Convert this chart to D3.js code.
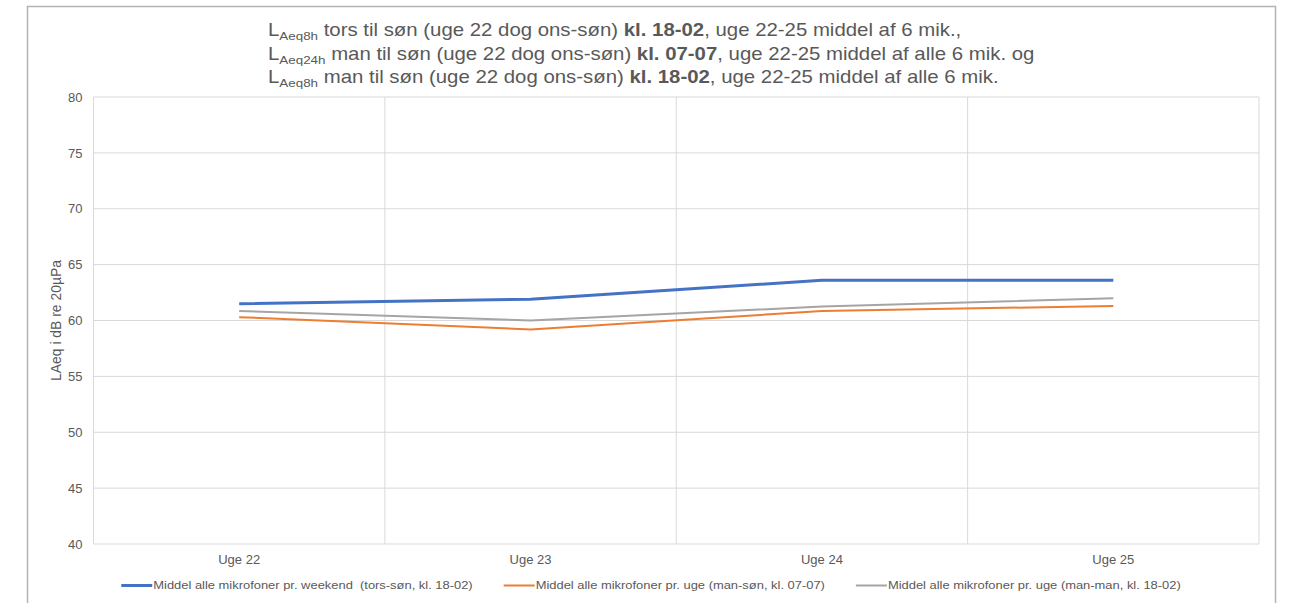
<!DOCTYPE html>
<html>
<head>
<meta charset="utf-8">
<script src="https://cdn.jsdelivr.net/npm/d3@7"></script>
<style>
  body { margin: 0; background: #fff; }
  svg { display: block; font-family: "Liberation Sans", Arial, sans-serif; }
</style>
</head>
<body>
<svg id="chart" width="1290" height="603"></svg>
<script>
const weeks = ["Uge 22", "Uge 23", "Uge 24", "Uge 25"];
const weekend1802 = [61.5, 61.9, 63.6, 63.6];
const week0707 = [60.3, 59.2, 60.85, 61.3];
const weekMan1802 = [60.85, 60.0, 61.25, 62.0];
const seriesNames = [
	"Middel alle mikrofoner pr. weekend  (tors-søn, kl. 18-02)",
	"Middel alle mikrofoner pr. uge (man-søn, kl. 07-07)",
	"Middel alle mikrofoner pr. uge (man-man, kl. 18-02)"
];
const yTicks = [40, 45, 50, 55, 60, 65, 70, 75, 80];

const series = [
	{ name: seriesNames[0], values: weekend1802, color: "#4472c4", width: 3 },
	{ name: seriesNames[1], values: week0707, color: "#ed7d31", width: 2 },
	{ name: seriesNames[2], values: weekMan1802, color: "#a5a5a5", width: 2 }
];

const textColor = "#595959";
const gridColor = "#d9d9d9";
const plot = { left: 93.5, right: 1259, top: 97, bottom: 544 };
// title and legend text look widened in the original
const titleStretch = 1.165;
const legendStretch = 1.155;

const svg = d3.select("#chart");

// outer chart frame (bottom edge is off the picture)
svg.append("rect")
	.attr("x", 27.5).attr("y", 6.5)
	.attr("width", 1248).attr("height", 620)
	.style("fill", "none")
	.style("stroke", "#b4b4b4")
	.style("stroke-width", 1.5);

const x = d3.scaleBand().domain(weeks).range([plot.left, plot.right]);
const y = d3.scaleLinear().domain([40, 80]).range([plot.bottom, plot.top]);

// horizontal grid
svg.append("g").selectAll("line")
	.data(yTicks)
	.join("line")
	.attr("x1", plot.left).attr("x2", plot.right)
	.attr("y1", d => y(d)).attr("y2", d => y(d))
	.style("stroke", gridColor).style("stroke-width", 1);

// vertical grid at category edges
const edges = weeks.map(w => x(w)).concat([x(weeks[weeks.length - 1]) + x.bandwidth()]);
svg.append("g").selectAll("line")
	.data(edges)
	.join("line")
	.attr("x1", d => d).attr("x2", d => d)
	.attr("y1", plot.top).attr("y2", plot.bottom)
	.style("stroke", gridColor).style("stroke-width", 1);

// y axis labels
const yAxis = d3.axisLeft(y).tickValues(yTicks).tickSize(0).tickPadding(11);
const gy = svg.append("g").attr("transform", `translate(${plot.left},0)`).call(yAxis);
gy.select(".domain").remove();
gy.selectAll("text").style("fill", textColor).style("font-size", "13px").style("font-family", "Liberation Sans, Arial, sans-serif");

// x axis labels
const xAxis = d3.axisBottom(x).tickSize(0).tickPadding(11);
const gx = svg.append("g").attr("transform", `translate(0,${plot.bottom})`).call(xAxis);
gx.select(".domain").remove();
gx.selectAll("text").style("fill", textColor).style("font-size", "13px").style("font-family", "Liberation Sans, Arial, sans-serif");

// y axis title
svg.append("text")
	.attr("transform", `translate(61,${(plot.top + plot.bottom) / 2}) rotate(-90)`)
	.attr("text-anchor", "middle")
	.style("fill", textColor)
	.style("font-size", "13.9px")
	.text("LAeq i dB re 20µPa");

// lines
const line = d3.line()
	.x((d, i) => x(weeks[i]) + x.bandwidth() / 2)
	.y(d => y(d));

svg.append("g").selectAll("path")
	.data(series.slice().reverse())
	.join("path")
	.attr("d", d => line(d.values))
	.style("fill", "none")
	.style("stroke", d => d.color)
	.style("stroke-width", d => d.width)
	.style("stroke-linejoin", "round");

// title
const titleLines = [
	{ sub: "Aeq8h", a: " tors til søn (uge 22 dog ons-søn) ", b: "kl. 18-02", c: ", uge 22-25 middel af 6 mik.," },
	{ sub: "Aeq24h", a: " man til søn (uge 22 dog ons-søn) ", b: "kl. 07-07", c: ", uge 22-25 middel af alle 6 mik. og" },
	{ sub: "Aeq8h", a: " man til søn (uge 22 dog ons-søn) ", b: "kl. 18-02", c: ", uge 22-25 middel af alle 6 mik." }
];
const title = svg.append("g").style("fill", textColor).style("font-size", "17.5px");
titleLines.forEach((t, i) => {
	const tx = title.append("text")
		.attr("transform", `translate(268,${36 + i * 23.6}) scale(${titleStretch},1)`);
	tx.append("tspan").text("L");
	tx.append("tspan").attr("dy", 4).style("font-size", "11.5px").text(t.sub);
	tx.append("tspan").attr("dy", -4).text(t.a);
	tx.append("tspan").style("font-weight", "bold").text(t.b);
	tx.append("tspan").text(t.c);
});

// legend
const legend = svg.append("g").attr("transform", "translate(0,585.5)");
const items = legend.selectAll("g")
	.data(series)
	.join("g");
items.append("line")
	.attr("x1", 0).attr("x2", 31)
	.style("stroke", d => d.color)
	.style("stroke-width", d => d.width);
items.append("text")
	.attr("transform", `translate(32,0) scale(${legendStretch},1)`)
	.attr("dy", "0.35em")
	.style("fill", textColor)
	.style("font-size", "11.2px")
	.style("white-space", "pre")
	.text(d => d.name);

const gap = 31;
const widths = [];
items.each(function() { widths.push(this.getBoundingClientRect().width); });
const total = d3.sum(widths) + gap * (widths.length - 1);
let cursor = 651 - total / 2;
items.attr("transform", (d, i) => {
	const pos = cursor;
	cursor += widths[i] + gap;
	return `translate(${pos},0)`;
});
</script>
</body>
</html>
